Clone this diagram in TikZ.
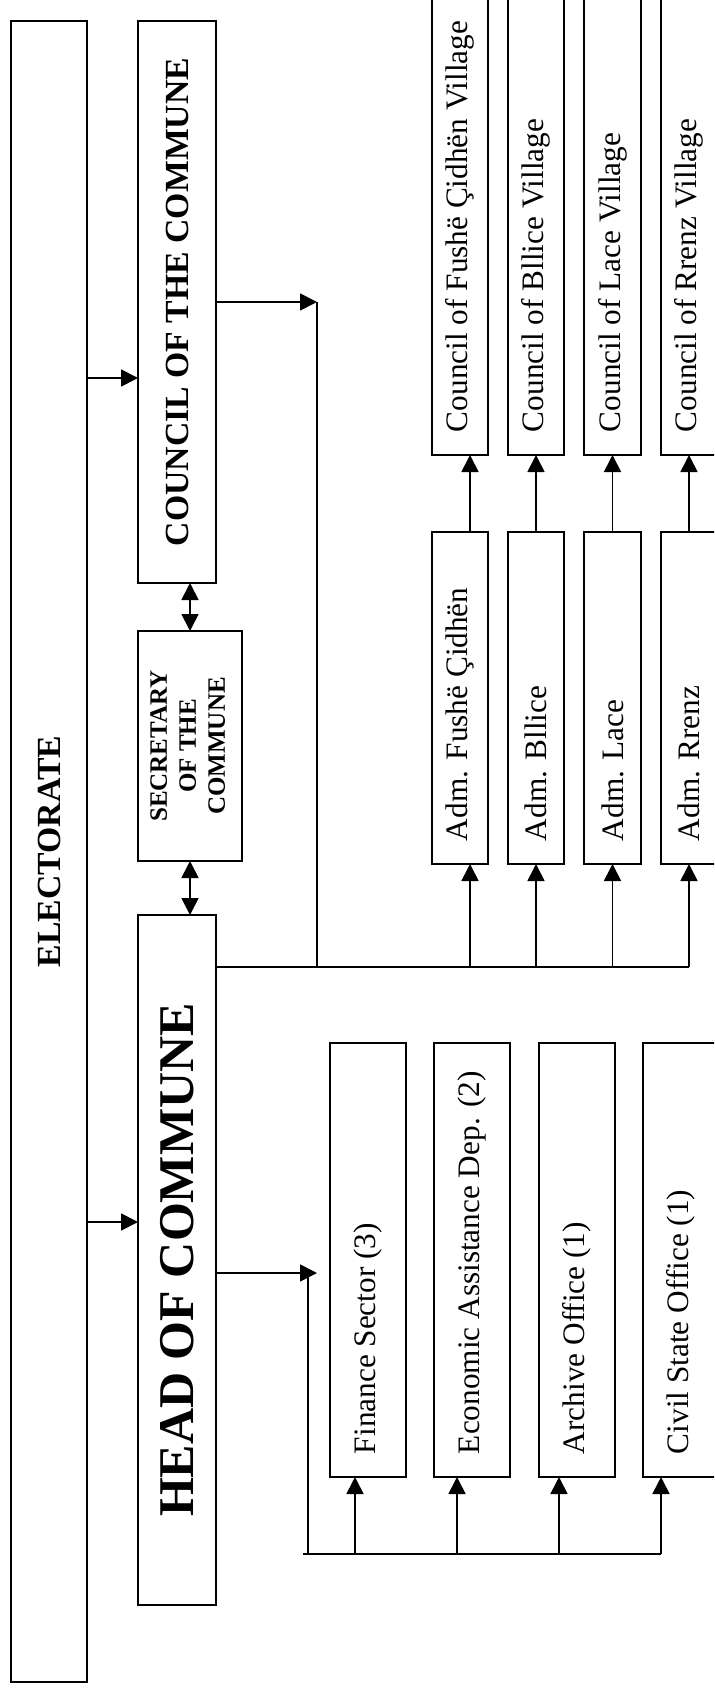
\documentclass[tikz,border=0pt]{standalone}
\usepackage{fontspec}
\setmainfont{Liberation Serif}
\usepackage{graphicx}
\usepackage{tikz}
\usetikzlibrary{arrows.meta,positioning}
\tikzstyle{orgbox} = [draw, line width=0.7pt, inner sep=0pt, outer sep=0pt]
\tikzstyle{link} = [line width=0.7pt]
\tikzstyle{arrow} = [line width=0.7pt,-{Triangle[length=6.8pt,width=6.8pt]}]
\tikzstyle{darrow} = [line width=0.7pt,{Triangle[length=6.8pt,width=6.8pt]}-{Triangle[length=6.8pt,width=6.8pt]}]
\newcommand{\uptext}[2]{\rotatebox{90}{\makebox[#1][l]{\fontsize{12.5}{15}\selectfont #2}}}

\begin{document}
\begin{tikzpicture}[x=0.4pt, y=-0.4pt]
\path[use as bounding box] (0,0) rectangle (714,1691);
\clip (0,0) rectangle (714,1691);
% main column
\node[orgbox, minimum width=30.4pt, minimum height=664.4pt] (elect) at (49,851.5)
  {\rotatebox{90}{\fontsize{13.5}{16}\selectfont\bfseries ELECTORATE}};
\node[orgbox, minimum width=31.2pt, minimum height=224.8pt] (council) at (177,302)
  {\rotatebox{90}{\fontsize{13.5}{16}\selectfont\bfseries COUNCIL OF THE COMMUNE}};
\node[orgbox, minimum width=41.6pt, minimum height=92pt] (secr) at (190,746)
  {\rotatebox{90}{\fontsize{10}{11.6}\selectfont\bfseries
   \begin{tabular}{@{}c@{}}SECRETARY\\OF THE\\COMMUNE\end{tabular}}};
\node[orgbox, minimum width=31.2pt, minimum height=276pt] (head) at (177,1260)
  {\rotatebox{90}{\fontsize{20}{24}\selectfont\bfseries HEAD OF COMMUNE}};

% village administrators and councils
\node[orgbox, minimum width=22.6pt, minimum height=132.8pt] (adm1) at (460,698) {\uptext{114.4pt}{Adm. Fushë Çidhën}};
\node[orgbox, minimum width=22.6pt, minimum height=132.8pt] (adm2) at (536,698) {\uptext{114.4pt}{Adm. Bllice}};
\node[orgbox, minimum width=22.6pt, minimum height=132.8pt] (adm3) at (612.5,698) {\uptext{114.4pt}{Adm. Lace}};
\node[orgbox, minimum width=22.6pt, minimum height=132.8pt] (adm4) at (689,698) {\uptext{114.4pt}{Adm. Rrenz}};
\node[orgbox, minimum width=22.6pt, minimum height=206pt] (vil1) at (460,197.5) {\uptext{187.6pt}{Council of Fushë Çidhën Village}};
\node[orgbox, minimum width=22.6pt, minimum height=206pt] (vil2) at (536,197.5) {\uptext{187.6pt}{Council of Bllice Village}};
\node[orgbox, minimum width=22.6pt, minimum height=206pt] (vil3) at (612.5,197.5) {\uptext{187.6pt}{Council of Lace Village}};
\node[orgbox, minimum width=22.6pt, minimum height=206pt] (vil4) at (689,197.5) {\uptext{187.6pt}{Council of Rrenz Village}};

% offices
\node[orgbox, minimum width=30.4pt, minimum height=173.6pt] (off1) at (368,1260) {\uptext{155.2pt}{Finance Sector (3)}};
\node[orgbox, minimum width=30.4pt, minimum height=173.6pt] (off2) at (472,1260) {\uptext{155.2pt}{Economic Assistance Dep. (2)}};
\node[orgbox, minimum width=30.4pt, minimum height=173.6pt] (off3) at (577,1260) {\uptext{155.2pt}{Archive Office (1)}};
\node[orgbox, minimum width=30.4pt, minimum height=173.6pt] (off4) at (681,1260) {\uptext{155.2pt}{Civil State Office (1)}};

% electorate and secretary links
\coordinate (inC) at ([yshift=-30.4pt]council.west);
\coordinate (inH) at ([yshift=15.2pt]head.west);
\draw[arrow] (elect.east |- inC) -- (inC);
\draw[arrow] (elect.east |- inH) -- (inH);
\draw[darrow] (secr.north |- council.south) -- (secr.north);
\draw[darrow] (secr.south) -- (secr.south |- head.north);

% council and head to the villages
\coordinate (topfeed) at (317,302);
\coordinate (busA) at ([yshift=-20.8pt]head.north east);
\draw[arrow] (council.east) -- (topfeed);
\draw[link] (topfeed) -- (topfeed |- busA);
\draw[link] (busA) -- (adm4.south |- busA);
\foreach \n/\s in {1/4pt,2/0pt,3/0pt,4/0pt} {
  \draw[arrow] ([xshift=\s]adm\n.south |- busA) -- ([xshift=\s]adm\n.south);
  \draw[arrow] ([xshift=\s]adm\n.north) -- ([xshift=\s]vil\n.south);
}

% head to the offices
\coordinate (hB) at ([yshift=-5.2pt]head.east);
\coordinate (lowfeed) at (308,1554);
\draw[arrow] (hB) -- ([xshift=3.6pt]hB -| lowfeed);
\draw[link] (hB -| lowfeed) -- (lowfeed);
\draw[link] ([xshift=-2pt]lowfeed) -- ([xshift=-8pt]off4.south |- lowfeed);
\foreach \n/\s in {1/-5.2pt,2/-6pt,3/-7.2pt,4/-8pt}
  \draw[arrow] ([xshift=\s]off\n.south |- lowfeed) -- ([xshift=\s]off\n.south);
\end{tikzpicture}
\end{document}
